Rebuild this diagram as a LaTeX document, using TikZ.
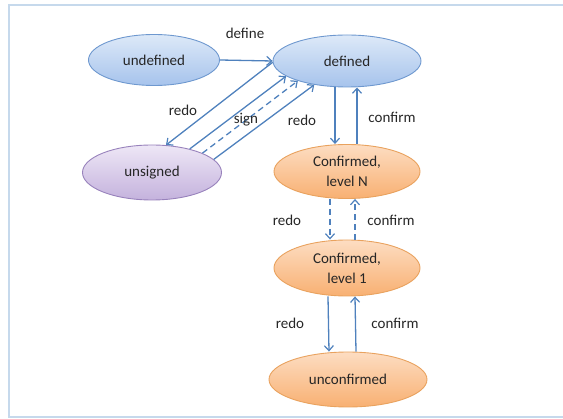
\documentclass[tikz,border=0pt]{standalone}
\usepackage{fontspec}
\setmainfont{Carlito}
\usetikzlibrary{arrows.meta,shapes.geometric}

\definecolor{framecol}{HTML}{C6D9EC}
\definecolor{arrowcol}{HTML}{4F81BD}
\definecolor{txtcol}{HTML}{262626}
\definecolor{bluetop}{HTML}{DDE9F8}
\definecolor{bluebot}{HTML}{A6C3EC}
\definecolor{blueline}{HTML}{6E98CF}
\definecolor{purptop}{HTML}{EEE7F6}
\definecolor{purpbot}{HTML}{C4B2DD}
\definecolor{purpline}{HTML}{9882BC}
\definecolor{orgtop}{HTML}{FDDDC2}
\definecolor{orgbot}{HTML}{F8B072}
\definecolor{orgline}{HTML}{E9A25E}

\tikzset{
  state/.style={ellipse, inner sep=0pt, line width=0.9pt, align=center,
    text=txtcol, font=\fontsize{15pt}{20pt}\selectfont},
  bluestate/.style={state, draw=blueline, top color=bluetop, bottom color=bluebot},
  purpstate/.style={state, draw=purpline, top color=purptop, bottom color=purpbot},
  orgstate/.style={state, draw=orgline, top color=orgtop, bottom color=orgbot},
  trans/.style={draw=arrowcol, line width=1.3pt,
    -{Straight Barb[length=5pt,width=9pt,line width=1.2pt]}},
  dtrans/.style={trans, dash pattern=on 6pt off 4pt},
  lbl/.style={text=txtcol, inner sep=1pt, font=\fontsize{15pt}{18pt}\selectfont}
}

\begin{document}
\begin{tikzpicture}[x=1pt,y=-1pt]
  \useasboundingbox (0,0) rectangle (563,419);

  % outer frame, open on the right
  \draw[framecol, line width=1.8pt] (563,5) -- (9,5) -- (9,417) -- (563,417);

  % states
  \node[bluestate, minimum width=131pt, minimum height=51pt] (undef) at (154,60) {undefined};
  \node[bluestate, minimum width=148pt, minimum height=52pt] (def) at (347,61) {defined};
  \node[purpstate, minimum width=139pt, minimum height=55pt] (unsig) at (152,172.5) {unsigned};
  \node[orgstate, minimum width=146pt, minimum height=54pt] (confN) at (347,171.5) {Confirmed,\\level N};
  \node[orgstate, minimum width=146pt, minimum height=56pt] (conf1) at (347,268) {Confirmed,\\level 1};
  \node[orgstate, minimum width=158pt, minimum height=55pt] (unconf) at (348,379.5) {unconfirmed};

  % transitions between undefined, defined and unsigned
  \draw[trans] (undef.east) -- (def.west);
  \draw[trans] (def.181) -- (unsig.63);
  \draw[trans] (unsig.32) -- (def.194);
  \draw[dtrans] (unsig.21) -- (def.202);
  \draw[trans] (unsig.12) -- (def.216);

  % confirmation chain
  \draw[trans] ([xshift=-12pt]def.south) -- ([xshift=-12pt]confN.north);
  \draw[trans] ([xshift=10pt]confN.north) -- ([xshift=10pt]def.south);
  \draw[dtrans] ([xshift=-17pt]confN.south) -- ([xshift=-17pt]conf1.north);
  \draw[dtrans] ([xshift=8pt]conf1.north) -- ([xshift=8pt]confN.south);
  \draw[trans] ([xshift=-19pt]conf1.south) -- ([xshift=-19pt]unconf.north);
  \draw[trans] ([xshift=8pt]unconf.north) -- ([xshift=8pt]conf1.south);

  % transition labels
  \node[lbl] (ldefine) at (245,33) {define};
  \node[lbl] (lredoA) at (183,110) {redo};
  \node[lbl] (lsign) at (246,120) {sign};
  \node[lbl] (lredoB) at (302,120) {redo};
  \node[lbl] (lconfA) at (392,117) {confirm};
  \node[lbl] (lredoC) at (287,220) {redo};
  \node[lbl] (lconfB) at (391,220) {confirm};
  \node[lbl] (lredoD) at (290,323) {redo};
  \node[lbl] (lconfC) at (395,323) {confirm};
\end{tikzpicture}
\end{document}
